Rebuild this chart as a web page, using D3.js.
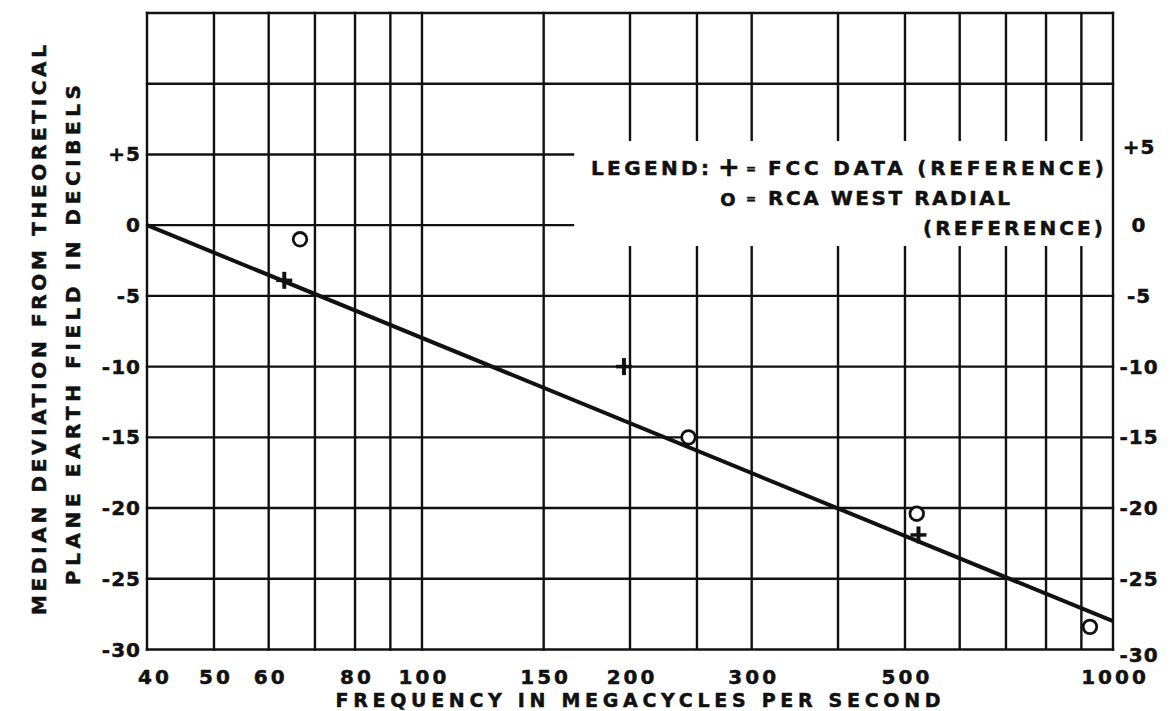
<!DOCTYPE html>
<html>
<head>
<meta charset="utf-8">
<script src="https://cdn.jsdelivr.net/npm/d3@7"></script>
<style>
  html, body { margin: 0; padding: 0; background: #fff; }
  svg { display: block; }
  text { font-family: "DejaVu Sans", "Liberation Sans", sans-serif; font-weight: bold; fill: #111; stroke: #111; stroke-width: 0.5px; }
</style>
</head>
<body>
<svg id="chart" width="1171" height="711"></svg>
<script>
// ---- data ----
const xGridFreqs = [40, 50, 60, 70, 80, 90, 100, 150, 200, 250, 300, 400, 500, 600, 700, 800, 900, 1000];
const xTickLabels = [40, 50, 60, 80, 100, 150, 200, 300, 500, 1000];
const yGridValues = [15, 10, 5, 0, -5, -10, -15, -20, -25, -30];
const yTickLabelsLeft = ["+5", "0", "-5", "-10", "-15", "-20", "-25", "-30"];
const yTickValuesLeft = [5, 0, -5, -10, -15, -20, -25, -30];
const yTickLabelsRight = ["+5", "0", "-5", "-10", "-15", "-20", "-25", "-30"];
const yTickValuesRight = [5, 0, -5, -10, -15, -20, -25, -30];

const fccFreq = [63.2, 196, 523];
const fccDb = [-3.9, -10.0, -21.9];
const rcaFreq = [66.6, 243, 520, 926];
const rcaDb = [-1.0, -15.0, -20.4, -28.4];
const trendFreq = [40, 1000];
const trendDb = [0, -28];

// ---- layout ----
const svg = d3.select("#chart");
const mLeft = 147, mRight = 1113, mTop = 13, mBottom = 649.5;
const x = d3.scaleLog().domain([40, 1000]).range([mLeft, mRight]);
const y = d3.scaleLinear().domain([-30, 15]).range([mBottom, mTop]);

const gridColor = "#111";
const gw = 2.4;
const legendX0 = 573;      // where +5 and 0 lines stop (legend area)
const gapTop = 141, gapBottom = 246; // gap in vertical lines behind legend

const g = svg.append("g");

// horizontal grid lines
yGridValues.forEach(v => {
  const x2 = (v === 5 || v === 0) ? legendX0 : mRight;
  g.append("line")
    .attr("x1", mLeft).attr("x2", x2)
    .attr("y1", y(v)).attr("y2", y(v))
    .attr("stroke", gridColor).attr("stroke-width", gw)
    .attr("stroke-linecap", "square");
});

// vertical grid lines
xGridFreqs.forEach(f => {
  const xv = x(f);
  if (f > 150 && f < 1000) {
    g.append("line").attr("x1", xv).attr("x2", xv)
      .attr("y1", mTop).attr("y2", gapTop)
      .attr("stroke", gridColor).attr("stroke-width", gw);
    g.append("line").attr("x1", xv).attr("x2", xv)
      .attr("y1", gapBottom).attr("y2", mBottom)
      .attr("stroke", gridColor).attr("stroke-width", gw);
  } else {
    g.append("line").attr("x1", xv).attr("x2", xv)
      .attr("y1", mTop).attr("y2", mBottom)
      .attr("stroke", gridColor).attr("stroke-width", gw)
      .attr("stroke-linecap", "square");
  }
});

// trend line
const lineGen = d3.line().x(d => x(d[0])).y(d => y(d[1]));
g.append("path")
  .datum(trendFreq.map((f, i) => [f, trendDb[i]]))
  .attr("d", lineGen)
  .attr("fill", "none").attr("stroke", "#111").attr("stroke-width", 4);

// FCC "+" markers
fccFreq.forEach((f, i) => {
  const cx = x(f), cy = y(fccDb[i]);
  g.append("line").attr("x1", cx - 8).attr("x2", cx + 8).attr("y1", cy).attr("y2", cy)
    .attr("stroke", "#111").attr("stroke-width", 3.5);
  g.append("line").attr("x1", cx).attr("x2", cx).attr("y1", cy - 8.5).attr("y2", cy + 8.5)
    .attr("stroke", "#111").attr("stroke-width", 4);
});

// RCA "O" markers
rcaFreq.forEach((f, i) => {
  g.append("circle").attr("cx", x(f)).attr("cy", y(rcaDb[i])).attr("r", 6.8)
    .attr("fill", "#fff").attr("stroke", "#111").attr("stroke-width", 2.8);
});

// x tick labels
xTickLabels.forEach(f => {
  svg.append("text").attr("x", x(f) + (f === 40 ? 8 : 2)).attr("y", 684)
    .attr("text-anchor", "middle").attr("font-size", 20)
    .attr("letter-spacing", 3).text(f);
});

// left y tick labels
yTickValuesLeft.forEach((v, i) => {
  svg.append("text").attr("x", 141).attr("y", y(v) + 7)
    .attr("text-anchor", "end").attr("font-size", 20)
    .attr("letter-spacing", 1).text(yTickLabelsLeft[i]);
});

// right y tick labels
yTickValuesRight.forEach((v, i) => {
  const dy = v === 5 ? 0 : (v === -30 ? 12 : 7);
  svg.append("text").attr("x", 1139).attr("y", y(v) + dy)
    .attr("text-anchor", "middle").attr("font-size", 20)
    .attr("letter-spacing", 1).text(yTickLabelsRight[i]);
});

// axis titles
svg.append("text").attr("x", 638).attr("y", 707)
  .attr("text-anchor", "middle").attr("font-size", 19)
  .attr("textLength", 605).attr("lengthAdjust", "spacing")
  .text("FREQUENCY IN MEGACYCLES PER SECOND");

svg.append("text")
  .attr("transform", "translate(46,330) rotate(-90)")
  .attr("text-anchor", "middle").attr("font-size", 20)
  .attr("textLength", 570).attr("lengthAdjust", "spacing")
  .text("MEDIAN DEVIATION FROM THEORETICAL");
svg.append("text")
  .attr("transform", "translate(80,335) rotate(-90)")
  .attr("text-anchor", "middle").attr("font-size", 20)
  .attr("textLength", 500).attr("lengthAdjust", "spacing")
  .text("PLANE EARTH FIELD IN DECIBELS");

// legend
const lg = svg.append("g").attr("font-size", 20);
lg.append("text").attr("x", 591).attr("y", 175)
  .attr("textLength", 118).attr("lengthAdjust", "spacing").text("LEGEND:");
lg.append("text").attr("x", 729).attr("y", 176).attr("text-anchor", "middle")
  .attr("font-size", 26).text("+");
lg.append("text").attr("x", 751).attr("y", 173).attr("text-anchor", "middle")
  .attr("font-size", 12).text("=");
lg.append("text").attr("x", 768).attr("y", 175)
  .attr("textLength", 336).attr("lengthAdjust", "spacing").text("FCC DATA (REFERENCE)");
lg.append("text").attr("x", 728).attr("y", 206).attr("text-anchor", "middle")
  .attr("font-size", 18).text("O");
lg.append("text").attr("x", 751).attr("y", 203).attr("text-anchor", "middle")
  .attr("font-size", 12).text("=");
lg.append("text").attr("x", 768).attr("y", 205)
  .attr("textLength", 242).attr("lengthAdjust", "spacing").text("RCA WEST RADIAL");
lg.append("text").attr("x", 923).attr("y", 235)
  .attr("textLength", 180).attr("lengthAdjust", "spacing").text("(REFERENCE)");
</script>
</body>
</html>
